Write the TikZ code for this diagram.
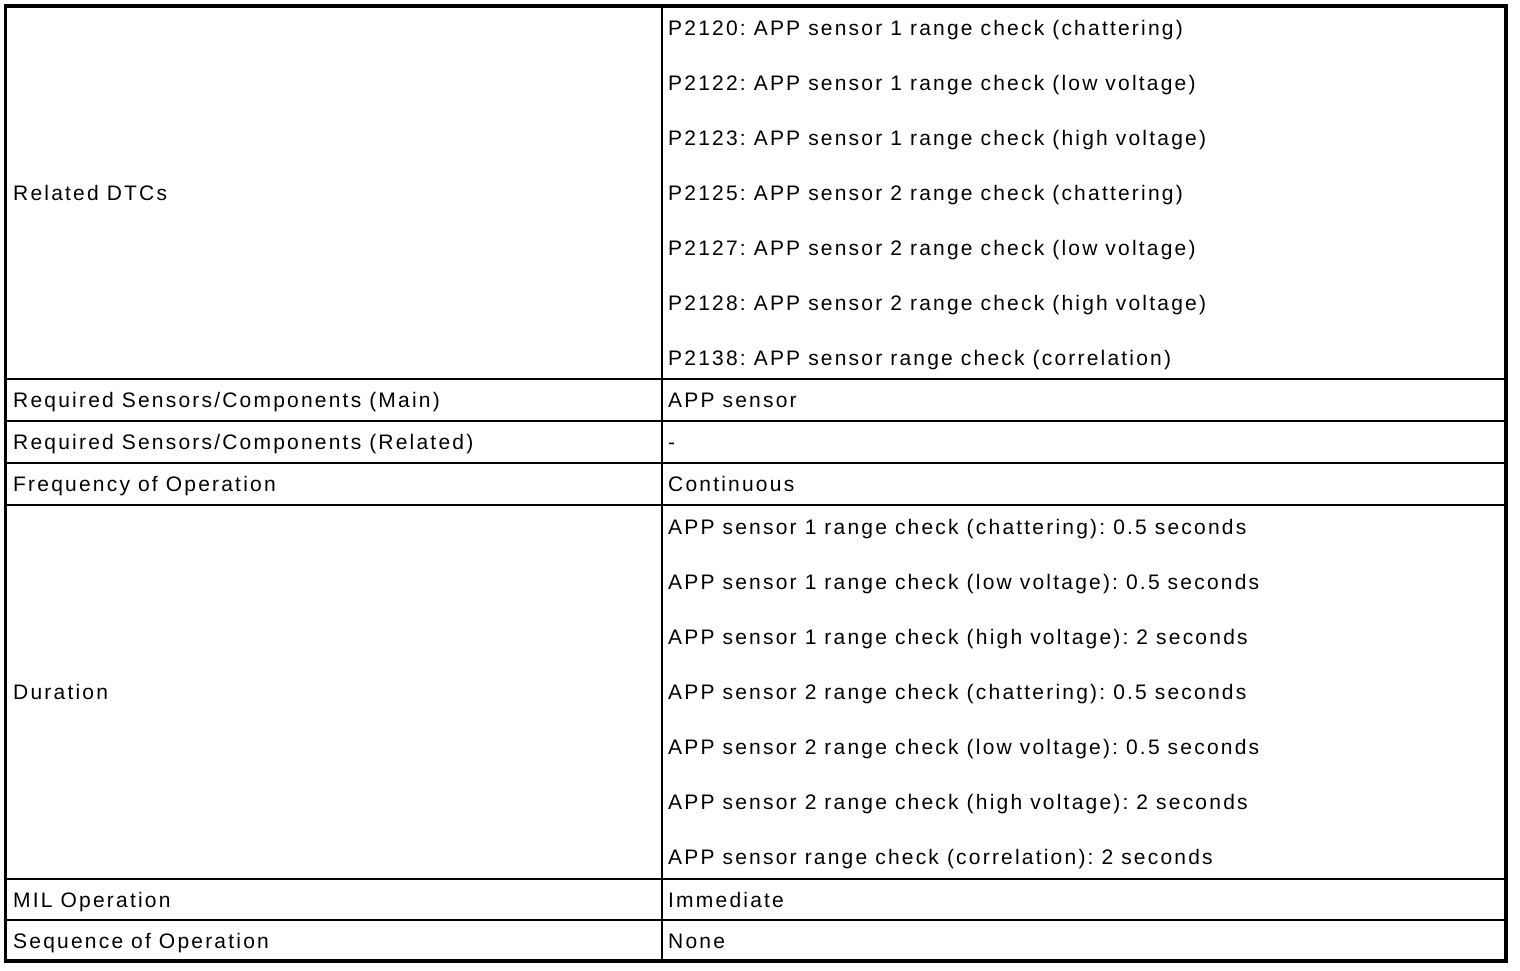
\documentclass[tikz,border=0pt]{standalone}
\usepackage{fontspec}
\setmainfont{Liberation Sans}[LetterSpace=10.5]
\frenchspacing
\begin{document}
\begin{tikzpicture}[x=1pt,y=-1pt,
  cell/.style={anchor=base west, inner sep=0pt, font=\fontsize{21}{25}\selectfont\frenchspacing},
  frame/.style={line width=3.5pt},
  rule/.style={line width=1.1pt}]
\useasboundingbox (0,0) rectangle (1520,970);
% table lines
\draw[frame] (5.5,6) rectangle (1506,961);
\draw[rule] (662,6) -- (662,961);
\foreach \y in {379,421,463,505,879,920} \draw[rule] (5.5,\y) -- (1506,\y);
% left column
\node[cell] (l1) at (13,200) {Related DTCs};
\node[cell] (l2) at (13,407.5) {Required Sensors/Components (Main)};
\node[cell] (l3) at (13,449.5) {Required Sensors/Components (Related)};
\node[cell] (l4) at (13,491.5) {Frequency of Operation};
\node[cell] (l5) at (13,699.5) {Duration};
\node[cell] (l6) at (13,907) {MIL Operation};
\node[cell] (l7) at (13,948) {Sequence of Operation};
% right column
\node[cell] (d1) at (668,35) {P2120: APP sensor 1 range check (chattering)};
\node[cell] (d2) at (668,90) {P2122: APP sensor 1 range check (low voltage)};
\node[cell] (d3) at (668,145) {P2123: APP sensor 1 range check (high voltage)};
\node[cell] (d4) at (668,200) {P2125: APP sensor 2 range check (chattering)};
\node[cell] (d5) at (668,255) {P2127: APP sensor 2 range check (low voltage)};
\node[cell] (d6) at (668,310) {P2128: APP sensor 2 range check (high voltage)};
\node[cell] (d7) at (668,365) {P2138: APP sensor range check (correlation)};
\node[cell] (r2) at (668,407.5) {APP sensor};
\node[cell] (r3) at (668,449.5) {-};
\node[cell] (r4) at (668,491.5) {Continuous};
\node[cell] (u1) at (668,534.5) {APP sensor 1 range check (chattering): 0.5 seconds};
\node[cell] (u2) at (668,589.5) {APP sensor 1 range check (low voltage): 0.5 seconds};
\node[cell] (u3) at (668,644.5) {APP sensor 1 range check (high voltage): 2 seconds};
\node[cell] (u4) at (668,699.5) {APP sensor 2 range check (chattering): 0.5 seconds};
\node[cell] (u5) at (668,754.5) {APP sensor 2 range check (low voltage): 0.5 seconds};
\node[cell] (u6) at (668,809.5) {APP sensor 2 range check (high voltage): 2 seconds};
\node[cell] (u7) at (668,864.5) {APP sensor range check (correlation): 2 seconds};
\node[cell] (r6) at (668,907) {Immediate};
\node[cell] (r7) at (668,948) {None};
\end{tikzpicture}
\end{document}
